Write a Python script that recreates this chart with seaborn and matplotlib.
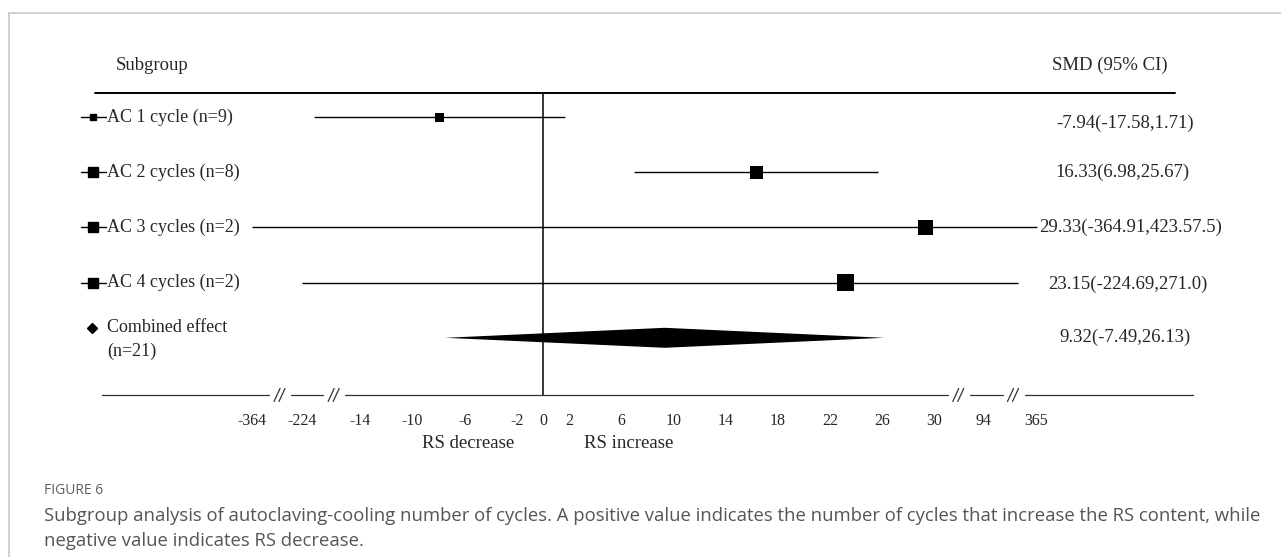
import numpy as np
import matplotlib
matplotlib.use('Agg')
import matplotlib.pyplot as plt
from matplotlib.lines import Line2D
from matplotlib.patches import Polygon
import seaborn as sns

sns.set_style('white')
plt.rcParams['font.family'] = ['Liberation Serif', 'DejaVu Serif']

# data
subgroups = ['AC 1 cycle (n=9)', 'AC 2 cycles (n=8)', 'AC 3 cycles (n=2)', 'AC 4 cycles (n=2)']
smd = [-7.94, 16.33, 29.33, 23.15]
ci_lo = [-17.58, 6.98, -364.91, -224.69]
ci_hi = [1.71, 25.67, 423.57, 271.0]
ci_text = ['-7.94(-17.58,1.71)', '16.33(6.98,25.67)', '29.33(-364.91,423.57.5)', '23.15(-224.69,271.0)']
pooled_label = 'Combined effect\n(n=21)'
pooled_smd = 9.32
pooled_lo = -7.49
pooled_hi = 26.13
pooled_text = '9.32(-7.49,26.13)'
tick_vals = [-364, -224, -14, -10, -6, -2, 0, 2, 6, 10, 14, 18, 22, 26, 30, 94, 365]

# styling
W, H = 1281, 557
marker_px = [9, 13, 15, 17]

# broken axis: piecewise linear scale (value -> pixel-like units)
knot_vals = np.array([-3000, -364, -224, -17.6, 30, 94, 365, 10000])
knot_pos = np.array([102, 252, 302, 313.3, 934.5, 983, 1036, 1193])

def fwd(v):
    return np.interp(v, knot_vals, knot_pos)

def inv(p):
    return np.interp(p, knot_pos, knot_vals)

fig = plt.figure(figsize=(W / 100, H / 100), dpi=100)

def fx(px):
    return px / W

def fy(py):
    return 1 - py / H

# rows at 117 + 55*i px ; header line 93 px ; axis line 395 px
row_top, row_step = 117, 55.2
y_header, y_axis = 93, 395
ax = fig.add_axes([fx(102), fy(y_axis), fx(1193) - fx(102), fy(y_header) - fy(y_axis)])
ax.set_xscale('function', functions=(fwd, inv))
ax.set_xlim(knot_vals[0], knot_vals[-1])
ax.set_ylim((y_axis - row_top) / row_step, (y_header - row_top) / row_step)
for s in ax.spines.values():
    s.set_visible(False)
ax.set_yticks([])

rows = np.arange(len(subgroups))

# CI lines
ax.hlines(rows, ci_lo, ci_hi, color='black', lw=1.0)
# point estimates
sizes = [(m * 0.72) ** 2 for m in marker_px]
sns.scatterplot(x=smd, y=rows, size=rows, sizes=dict(zip(rows, sizes)), marker='s',
                color='black', edgecolor='black', linewidth=0, legend=False, ax=ax, zorder=3)

# pooled diamond
pr = len(subgroups)
hh = 10 / row_step
ax.add_patch(Polygon([[pooled_lo, pr], [pooled_smd, pr - hh], [pooled_hi, pr], [pooled_smd, pr + hh]],
                     closed=True, color='black', lw=0))

# line of no effect
ax.axvline(0, color='black', lw=1.1)

# x ticks
ax.set_xticks(tick_vals)
ax.set_xticklabels([str(t) for t in tick_vals], fontsize=11.5)
ax.tick_params(axis='x', length=0, pad=13)
ax.minorticks_off()

# broken axis line with // marks
tp = fwd(np.array(tick_vals, dtype=float))
brk = [(tp[0] + tp[1]) / 2 + 3, (tp[1] + tp[2]) / 2 + 3, (tp[-3] + tp[-2]) / 2, (tp[-2] + tp[-1]) / 2 + 4]
edges = [knot_pos[0]]
for b in brk:
    edges += [b - 11, b + 11]
edges.append(knot_pos[-1])
xt = ax.get_xaxis_transform()
for a, b in zip(edges[0::2], edges[1::2]):
    ax.plot(inv(np.array([a, b])), [0, 0], color='#333333', lw=0.9, transform=xt, clip_on=False)
dy = 6.5 / (y_axis - y_header)
for b in brk:
    for off in (-3, 2):
        ax.plot(inv(np.array([b + off - 3, b + off + 3])), [-dy, dy], color='#333333', lw=0.9,
                transform=xt, clip_on=False)

# header
fig.text(fx(116), fy(65), 'Subgroup', fontsize=13.5, va='center', ha='left')
fig.text(fx(1110), fy(65), 'SMD (95% CI)', fontsize=13.5, va='center', ha='center')
fig.add_artist(Line2D([fx(95), fx(1175)], [fy(y_header)] * 2, color='black', lw=1.4))

# left labels with legend glyphs
text_off = [6, 0, 0, 2]
text_cx = [1125, 1122, 1131, 1128]
for i, lab in enumerate(subgroups):
    yp = row_top + row_step * i
    fig.add_artist(Line2D([fx(81), fx(106)], [fy(yp)] * 2, color='black', lw=1.0))
    fig.add_artist(Line2D([fx(93)], [fy(yp)], marker='s', color='black', lw=0,
                          markersize=4.5 if i == 0 else 7.5))
    fig.text(fx(107), fy(yp), lab, fontsize=13, va='center', ha='left')
    fig.text(fx(text_cx[i]), fy(yp + text_off[i]), ci_text[i], fontsize=13.5, va='center', ha='center')

yp = row_top + row_step * pr
fig.add_artist(Line2D([fx(92)], [fy(yp - 10)], marker='D', color='black', lw=0, markersize=5.5))
fig.text(fx(107), fy(yp + 2), pooled_label, fontsize=13, va='center', ha='left', linespacing=1.5)
fig.text(fx(1125), fy(yp), pooled_text, fontsize=13.5, va='center', ha='center')

# direction labels
fig.text(fx(468), fy(443), 'RS decrease', fontsize=13.5, va='center', ha='center')
fig.text(fx(629), fy(443), 'RS increase', fontsize=13.5, va='center', ha='center')

# frame and caption
fig.add_artist(Line2D([fx(9), fx(9)], [fy(13), 0], color='#c8c8c8', lw=1.2))
fig.add_artist(Line2D([fx(9), 1], [fy(13), fy(13)], color='#c8c8c8', lw=1.2))
cap_font = ['Open Sans', 'DejaVu Sans']
fig.text(fx(44), fy(490), 'FIGURE 6', fontsize=10, va='center', ha='left', color='#5f5f5f',
         family=cap_font)
fig.text(fx(44), fy(516),
         'Subgroup analysis of autoclaving-cooling number of cycles. A positive value indicates the number of cycles that increase the RS content, while',
         fontsize=13.3, va='center', ha='left', color='#555555', family=cap_font)
fig.text(fx(44), fy(541), 'negative value indicates RS decrease.',
         fontsize=13.3, va='center', ha='left', color='#555555', family=cap_font)

fig.savefig('out.png', dpi=100)
